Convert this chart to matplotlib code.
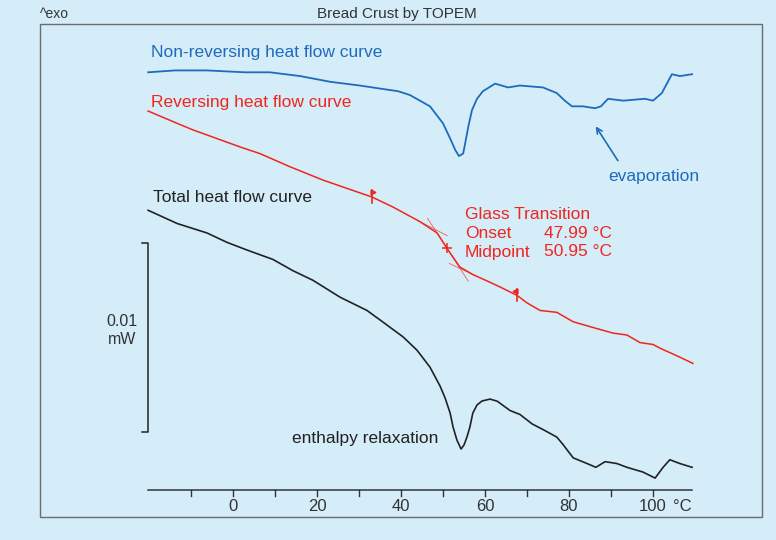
import numpy as np
import matplotlib
matplotlib.use("Agg")
import matplotlib.pyplot as plt
from matplotlib.patches import Rectangle

plt.rcParams['font.family'] = ['Liberation Sans', 'DejaVu Sans']
NARROW = ['Liberation Sans Narrow', 'Liberation Sans', 'DejaVu Sans']

# temperatures (°C) and heat flow (µW, curves offset vertically)
blue_t = [-20.2, -13.8, -6.2, 2.9, 8.8, 16.0, 23.1, 30.2, 36.2, 39.3, 42.1, 46.9,
          50.0, 51.7, 52.9, 53.8, 54.8, 55.2, 56.0, 56.9, 58.1, 59.5, 62.4, 65.5,
          68.3, 73.8, 77.1, 79.0, 80.7, 83.3, 86.2, 87.6, 89.3, 92.9, 98.1, 100.0,
          102.1, 104.5, 106.4, 109.3]
blue_hf = [22.1, 22.2, 22.2, 22.1, 22.1, 21.9, 21.6, 21.4, 21.2, 21.1, 20.9, 20.3,
           19.4, 18.6, 18.0, 17.67, 17.8, 18.25, 19.2, 20.1, 20.7, 21.1, 21.5, 21.3,
           21.4, 21.3, 21.0, 20.6, 20.3, 20.3, 20.2, 20.3, 20.7, 20.6, 20.7, 20.6,
           21.0, 22.0, 21.9, 22.0]

red_t = [-20.2, -13.3, -9.5, -1.4, 1.7, 6.4, 13.6, 21.4, 27.9, 33.1, 38.1, 44.5,
         48.6, 51.2, 54.0, 57.1, 60.5, 63.6, 67.6, 70.0, 73.1, 77.1, 81.0, 85.7,
         90.5, 93.8, 96.9, 100.0, 101.7, 105.7, 109.5]
red_hf = [20.05, 19.4, 19.05, 18.4, 18.15, 17.8, 17.1, 16.4, 15.9, 15.5, 14.97, 14.2,
          13.6, 12.7, 11.8, 11.4, 11.06, 10.74, 10.3, 9.9, 9.5, 9.4, 8.9, 8.6,
          8.3, 8.2, 7.8, 7.7, 7.5, 7.1, 6.7]

black_t = [-20.2, -13.3, -6.2, -1.4, 3.3, 9.5, 14.3, 19.0, 25.5, 31.9, 35.0, 40.5,
           43.8, 46.9, 49.3, 50.5, 51.7, 52.4, 53.3, 54.3, 55.0, 55.7, 56.4, 57.1,
           58.1, 59.3, 61.2, 62.9, 66.0, 68.3, 71.2, 73.8, 77.1, 78.6, 81.0, 84.3,
           86.4, 88.6, 91.4, 93.8, 97.6, 100.5, 102.4, 104.0, 106.4, 109.3]
black_hf = [14.8, 14.1, 13.6, 13.1, 12.7, 12.2, 11.6, 11.1, 10.2, 9.5, 9.0, 8.1,
            7.4, 6.5, 5.5, 4.87, 4.07, 3.33, 2.65, 2.17, 2.38, 2.8, 3.33, 4.07,
            4.5, 4.71, 4.81, 4.7, 4.2, 4.0, 3.5, 3.2, 2.8, 2.4, 1.7, 1.4,
            1.2, 1.5, 1.4, 1.2, 0.95, 0.63, 1.2, 1.6, 1.4, 1.2]

x_ticks = [0, 20, 40, 60, 80, 100]
minor_ticks = [-10, 10, 30, 50, 70, 90]
onset = 47.99
midpoint = 50.95
limits = [33.1, 67.6]   # evaluation limits (flags)

BG = '#d5ecf9'
BLUE = '#1e6bbd'
RED = '#f0261c'
BLACK = '#222222'
GREY = '#333333'

W, H = 776, 540
fig = plt.figure(figsize=(W / 100, H / 100), dpi=100, facecolor=BG)
ax = fig.add_axes([0, 0, 1, 1])
ax.set_facecolor(BG)
ax.axis('off')
# 4.2 px per °C, 18.9 px per µW; axis line at pixel row 490
ax.set_xlim(-233 / 4.2, (W - 233) / 4.2)
ax.set_ylim((490 - H) / 18.9, 490 / 18.9)


def fx(px):
    return px / W


def fy(py):
    return 1 - py / H


# frame
fig.patches.append(Rectangle((fx(40), fy(517)), fx(762) - fx(40), fy(24) - fy(517),
                             transform=fig.transFigure, fill=False,
                             edgecolor='#6d6d6d', lw=1.0))

# curves
ax.plot(blue_t, blue_hf, color=BLUE, lw=1.3, solid_joinstyle='round')
ax.plot(red_t, red_hf, color=RED, lw=1.1, solid_joinstyle='round')
ax.plot(black_t, black_hf, color=BLACK, lw=1.2, solid_joinstyle='round')

# glass transition construction on reversing curve
rt = np.array(red_t)
rh = np.array(red_hf)
y_mid = np.interp(midpoint, rt, rh)
y_on_pre = np.interp(44.5, rt, rh)
pre_slope = (y_on_pre - np.interp(33.1, rt, rh)) / (44.5 - 33.1)
y_on = y_on_pre + pre_slope * (onset - 44.5)
steep = (y_on - y_mid) / (onset - midpoint)
post_slope = (np.interp(67.6, rt, rh) - np.interp(57.1, rt, rh)) / (67.6 - 57.1)
y57 = np.interp(57.1, rt, rh)
t_end = (y57 - post_slope * 57.1 - y_mid + steep * midpoint) / (steep - post_slope)

seg = np.array([44.0, 51.0])
ax.plot(seg, y_on + pre_slope * (seg - onset), color=RED, lw=0.5, alpha=0.8)
seg = np.array([46.3, 56.0])
ax.plot(seg, y_mid + steep * (seg - midpoint), color=RED, lw=0.5, alpha=0.8)
seg = np.array([51.5, 57.5])
y_end = y_mid + steep * (t_end - midpoint)
ax.plot(seg, y_end + post_slope * (seg - t_end), color=RED, lw=0.5, alpha=0.8)
ax.plot([midpoint], [y_mid], marker='+', color=RED, ms=7, mew=1.1)

for t, side in zip(limits, ['>', '<']):
    y = np.interp(t, rt, rh)
    ax.plot([t, t], [y - 0.3, y + 0.35], color=RED, lw=1.2)
    ax.plot([t + (0.35 if side == '>' else -0.35)], [y + 0.25], marker=side,
            color=RED, ms=3.5)

# x axis
ax.plot([-20.2, 109.3], [0, 0], color=GREY, lw=1.1)
for t in x_ticks + minor_ticks:
    ax.plot([t, t], [0, -0.33], color=GREY, lw=1.0)
for t in x_ticks:
    ax.text(t, -0.85, str(t), ha='center', va='center', fontsize=12,
            family=NARROW, color=GREY)
ax.text(109.3, -0.85, '°C', ha='right', va='center', fontsize=12,
        family=NARROW, color=GREY)

# scale bar 0.01 mW
ax.plot([-21.7, -20.2, -20.2, -21.7], [(490 - 243) / 18.9, (490 - 243) / 18.9,
                                       (490 - 432) / 18.9, (490 - 432) / 18.9],
        color=BLACK, lw=1.1)
fig.text(fx(122), fy(321), '0.01', ha='center', va='center', fontsize=11.5, color=GREY)
fig.text(fx(122), fy(340), 'mW', ha='center', va='center', fontsize=11.5, color=GREY)

# labels
fig.text(fx(40), fy(14), '^exo', ha='left', va='center', fontsize=10,
         family=NARROW, color=GREY)
fig.text(fx(397), fy(14), 'Bread Crust by TOPEM', ha='center', va='center',
         fontsize=11, family=NARROW, color=GREY)
fig.text(fx(151), fy(53), 'Non-reversing heat flow curve', ha='left', va='center',
         fontsize=12.5, color=BLUE)
fig.text(fx(151), fy(102), 'Reversing heat flow curve', ha='left', va='center',
         fontsize=12.5, color=RED)
fig.text(fx(153), fy(198), 'Total heat flow curve', ha='left', va='center',
         fontsize=12.5, color=BLACK)
fig.text(fx(292), fy(439), 'enthalpy relaxation', ha='left', va='center',
         fontsize=12.5, color=BLACK)
fig.text(fx(608), fy(177), 'evaporation', ha='left', va='center',
         fontsize=12.5, color=BLUE)
fig.text(fx(465), fy(214), 'Glass Transition', ha='left', va='center',
         fontsize=12.5, color=RED)
fig.text(fx(465), fy(233), 'Onset', ha='left', va='center', fontsize=12.5, color=RED)
fig.text(fx(612), fy(233), f'{onset:.2f} °C', ha='right', va='center',
         fontsize=12.5, color=RED)
fig.text(fx(465), fy(252), 'Midpoint', ha='left', va='center', fontsize=12.5, color=RED)
fig.text(fx(612), fy(252), f'{midpoint:.2f} °C', ha='right', va='center',
         fontsize=12.5, color=RED)

# arrow to evaporation step
ax.annotate('', xy=(86.0, (490 - 124) / 18.9), xytext=(92.0, (490 - 163) / 18.9),
            arrowprops=dict(arrowstyle='->', color=BLUE, lw=1.2))

fig.savefig('out.png', dpi=100, facecolor=BG)
